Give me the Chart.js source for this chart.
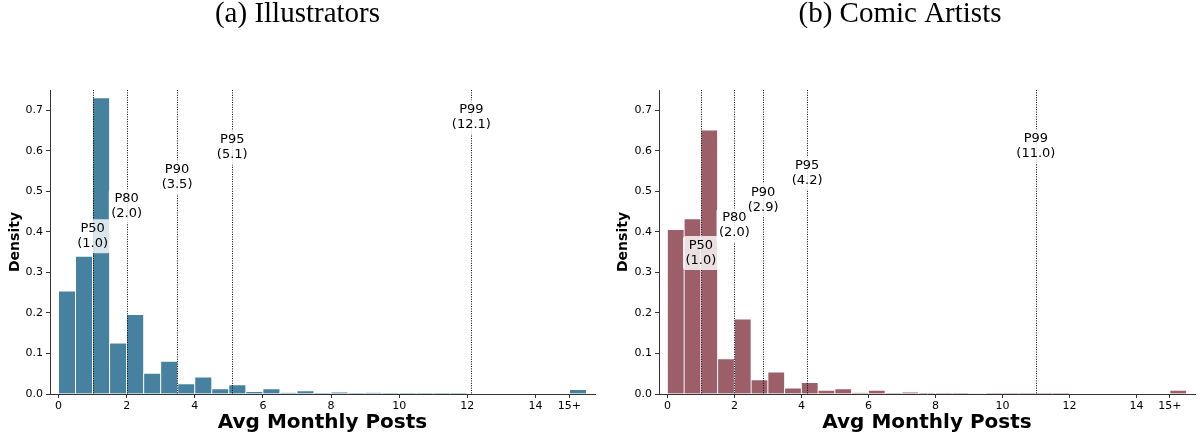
<!DOCTYPE html>
<html>
<head>
<meta charset="utf-8">
<script src="https://cdn.jsdelivr.net/npm/chart.js@4.4.1/dist/chart.umd.min.js"></script>
<style>
  html, body { margin: 0; padding: 0; background: #fff; width: 1200px; height: 439px; overflow: hidden; }
  #wrap { position: relative; width: 1200px; height: 439px; overflow: hidden; }
  canvas { position: absolute; top: 0; }
  #c1 { left: 0; }
  #c2 { left: 605px; }
</style>
</head>
<body>
<div id="wrap">
  <canvas id="c1" width="604" height="439"></canvas>
  <canvas id="c2" width="610" height="439"></canvas>
</div>
<script>
// ---- data ----
const binCenters = [0.25, 0.75, 1.25, 1.75, 2.25, 2.75, 3.25, 3.75, 4.25, 4.75,
                    5.25, 5.75, 6.25, 6.75, 7.25, 7.75, 8.25, 8.75, 9.25, 9.75,
                    10.25, 10.75, 11.25, 11.75, 15.25];
const illustratorDensity = [0.254, 0.340, 0.731, 0.126, 0.196, 0.051, 0.081, 0.025, 0.042, 0.013,
                            0.023, 0.006, 0.013, 0.003, 0.008, 0.0015, 0.005, 0.0004, 0.003, 0.0004,
                            0.001, 0.0003, 0.0008, 0.0002, 0.011];
const comicDensity = [0.406, 0.432, 0.651, 0.087, 0.185, 0.035, 0.054, 0.015, 0.028, 0.009,
                      0.013, 0.003, 0.009, 0.0015, 0.005, 0.0004, 0.002, 0.0003, 0.0012, 0.0003,
                      0.0003, 0.0002, 0.0002, 0.0002, 0.009];

const percentileNames = ['P50', 'P80', 'P90', 'P95', 'P99'];
const illustratorPercentiles = [1.0, 2.0, 3.48, 5.1, 12.12];
const illustratorLabelY = [0.389, 0.463, 0.535, 0.608, 0.683];
const comicPercentiles = [1.0, 2.0, 2.86, 4.17, 11.0];
const comicLabelY = [0.348, 0.416, 0.479, 0.545, 0.611];

const xTickValues = [0, 2, 4, 6, 8, 10, 12, 14, 15];
const xTickLabels = ['0', '2', '4', '6', '8', '10', '12', '14', '15+'];
const yTickValues = [0, 0.1, 0.2, 0.3, 0.4, 0.5, 0.6, 0.7];

const panelTitles = ['(a) Illustrators', '(b) Comic Artists'];
const xTitle = 'Avg Monthly Posts';
const yTitle = 'Density';

// ---- plugin for percentile lines & labels ----
const percentilePlugin = {
  id: 'percentiles',
  afterDatasetsDraw(chart, args, opts) {
    const { ctx, chartArea, scales: { x, y } } = chart;
    ctx.save();
    ctx.strokeStyle = '#000';
    ctx.lineWidth = 1;
    ctx.setLineDash([1, 1.4]);
    opts.values.forEach(v => {
      const px = Math.round(x.getPixelForValue(v)) + 0.5;
      ctx.beginPath();
      ctx.moveTo(px, chartArea.top);
      ctx.lineTo(px, chartArea.bottom);
      ctx.stroke();
    });
    ctx.setLineDash([]);
    ctx.font = '13px "DejaVu Sans"';
    ctx.textAlign = 'center';
    ctx.textBaseline = 'middle';
    opts.values.forEach((v, i) => {
      const cx = x.getPixelForValue(v);
      const cy = y.getPixelForValue(opts.labelY[i]);
      const lines = [opts.names[i], '(' + v.toFixed(1) + ')'];
      const w = Math.max(...lines.map(t => ctx.measureText(t).width)) + 5;
      const h = 34;
      ctx.fillStyle = 'rgba(255,255,255,0.8)';
      ctx.beginPath();
      ctx.roundRect(cx - w / 2, cy - h / 2, w, h, 3);
      ctx.fill();
      ctx.fillStyle = '#000';
      ctx.fillText(lines[0], cx, cy - 7.5);
      ctx.fillText(lines[1], cx, cy + 7.5);
    });
    ctx.restore();
  }
};

function makeChart(canvasId, title, values, color, pctValues, pctLabelY, yWidth, padRight, yTitlePad) {
  return new Chart(document.getElementById(canvasId), {
    type: 'bar',
    data: {
      datasets: [{
        data: binCenters.map((c, i) => ({ x: c, y: values[i] })),
        backgroundColor: color,
        borderColor: '#ffffff',
        borderWidth: 0.8,
        barPercentage: 1.0,
        categoryPercentage: 1.0
      }]
    },
    plugins: [percentilePlugin],
    options: {
      responsive: false,
      animation: false,
      devicePixelRatio: 1,
      layout: { padding: { left: 0, right: padRight, top: 0, bottom: 0 } },
      plugins: {
        legend: { display: false },
        tooltip: { enabled: false },
        title: {
          display: true,
          text: title,
          color: '#000',
          font: { family: '"Liberation Serif", serif', size: 29, weight: 'normal', lineHeight: 1 },
          padding: { top: 0, bottom: 61 }
        },
        percentiles: { values: pctValues, labelY: pctLabelY, names: percentileNames }
      },
      scales: {
        x: {
          type: 'linear',
          min: -0.25,
          max: 15.75,
          offset: false,
          grid: { display: true, drawOnChartArea: false, drawTicks: true, tickLength: 4, color: '#333', offset: false },
          border: { display: true, color: '#333', width: 1 },
          afterBuildTicks: (scale) => { scale.ticks = xTickValues.map(v => ({ value: v })); },
          afterFit: (scale) => { scale.height = 45; },
          ticks: {
            autoSkip: false,
            maxRotation: 0,
            padding: 2,
            color: '#000',
            font: { family: '"DejaVu Sans"', size: 11 },
            callback: (v) => { const i = xTickValues.indexOf(v); return i >= 0 ? xTickLabels[i] : ''; }
          },
          title: {
            display: true,
            text: xTitle,
            color: '#000',
            font: { family: '"DejaVu Sans"', size: 20, weight: 'bold', lineHeight: 1.2 },
            padding: { top: 0, bottom: 4 }
          }
        },
        y: {
          type: 'linear',
          min: 0,
          max: 0.75,
          grid: { display: true, drawOnChartArea: false, drawTicks: true, tickLength: 4, color: '#333' },
          border: { display: true, color: '#333', width: 1 },
          afterBuildTicks: (scale) => { scale.ticks = yTickValues.map(v => ({ value: v })); },
          afterFit: (scale) => { scale.width = yWidth; },
          ticks: {
            padding: 3,
            color: '#000',
            font: { family: '"DejaVu Sans"', size: 11 },
            callback: (v) => Number(v).toFixed(1)
          },
          title: {
            display: true,
            text: yTitle,
            color: '#000',
            font: { family: '"DejaVu Sans"', size: 14, weight: 'bold', lineHeight: 1.2 },
            padding: { top: yTitlePad, bottom: 0 }
          }
        }
      }
    }
  });
}

makeChart('c1', panelTitles[0], illustratorDensity, '#4682A0', illustratorPercentiles, illustratorLabelY, 50, 9, 7);
makeChart('c2', panelTitles[1], comicDensity, '#9C5F6A', comicPercentiles, comicLabelY, 54, 20, 10);
</script>
</body>
</html>
